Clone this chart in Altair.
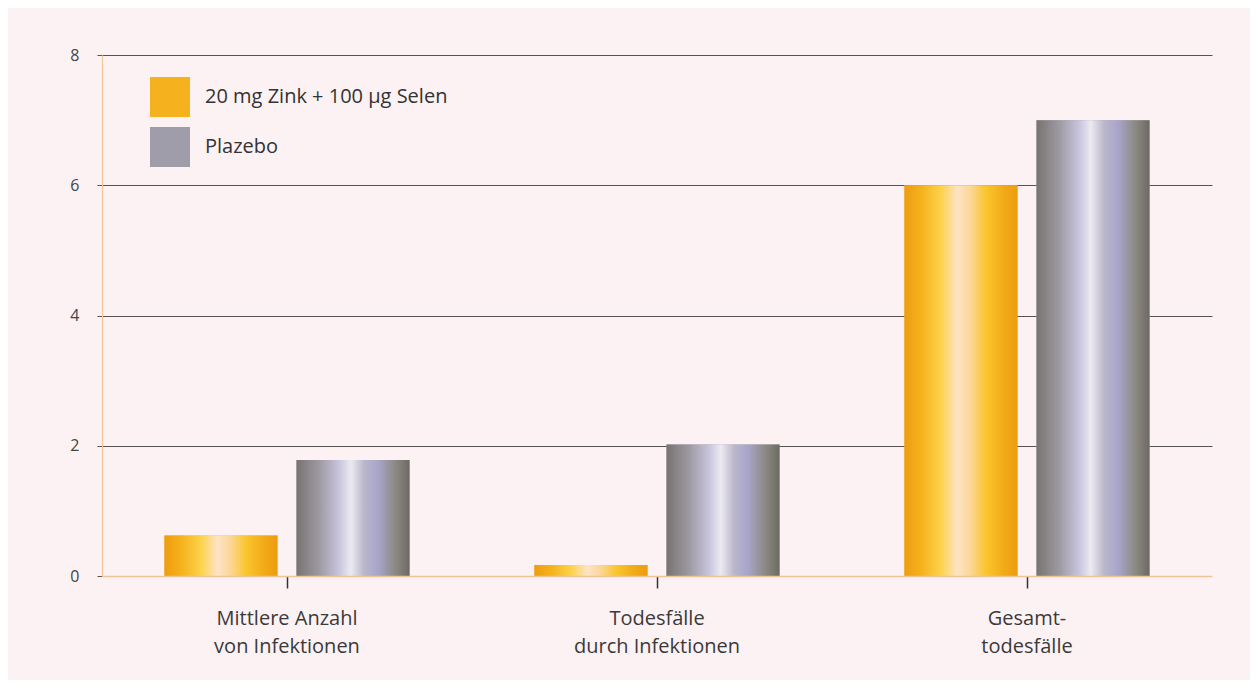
import altair as alt
import pandas as pd

categories = ["Mittlere Anzahl|von Infektionen", "Todesfälle|durch Infektionen", "Gesamt-|todesfälle"]
series = ["20 mg Zink + 100 µg Selen", "Plazebo"]
zink = [0.62, 0.17, 6.0]
plazebo = [1.78, 2.02, 7.0]
y_ticks = [0, 2, 4, 6, 8]

rows = []
for c, a, b in zip(categories, zink, plazebo):
    rows.append({"category": c, "series": series[0], "value": a})
    rows.append({"category": c, "series": series[1], "value": b})
df = pd.DataFrame(rows)

FONT = "Open Sans"

orange_grad = alt.Gradient(
    gradient="linear", x1=0, x2=1, y1=0, y2=0,
    stops=[
        alt.GradientStop(offset=0.0, color="#ee9c12"),
        alt.GradientStop(offset=0.15, color="#f5b21c"),
        alt.GradientStop(offset=0.32, color="#fcd24a"),
        alt.GradientStop(offset=0.47, color="#fde3c6"),
        alt.GradientStop(offset=0.58, color="#fcd79a"),
        alt.GradientStop(offset=0.72, color="#f9c62e"),
        alt.GradientStop(offset=0.88, color="#f2aa18"),
        alt.GradientStop(offset=1.0, color="#ec9c10"),
    ],
)
gray_grad = alt.Gradient(
    gradient="linear", x1=0, x2=1, y1=0, y2=0,
    stops=[
        alt.GradientStop(offset=0.0, color="#787470"),
        alt.GradientStop(offset=0.2, color="#9d99a2"),
        alt.GradientStop(offset=0.38, color="#c9c5de"),
        alt.GradientStop(offset=0.48, color="#eceaf0"),
        alt.GradientStop(offset=0.6, color="#bab6ca"),
        alt.GradientStop(offset=0.72, color="#a9a5ca"),
        alt.GradientStop(offset=0.88, color="#8a8880"),
        alt.GradientStop(offset=1.0, color="#6c6a62"),
    ],
)

x_enc = alt.X(
    "category:N",
    sort=categories,
    scale=alt.Scale(paddingInner=0, paddingOuter=0),
    axis=alt.Axis(
        title=None,
        labelAngle=0,
        labelExpr="split(datum.value, '|')",
        labelFont=FONT,
        labelFontSize=20,
        labelColor="#3a3a3a",
        labelLineHeight=28,
        labelPadding=20,
        ticks=True,
        tickSize=12,
        tickWidth=1.5,
        tickColor="#333333",
        domainColor="#f0c49a",
        domainWidth=1.5,
        grid=False,
        zindex=1,
    ),
)
xo_enc = alt.XOffset(
    "series:N",
    sort=series,
    scale=alt.Scale(domain=series, paddingInner=0.144, paddingOuter=0.473),
)
y_enc = alt.Y(
    "value:Q",
    scale=alt.Scale(domain=[0, 8], nice=False),
    axis=alt.Axis(
        title=None,
        values=y_ticks,
        labelFont=FONT,
        labelFontSize=16,
        labelColor="#444444",
        labelPadding=18,
        tickSize=5,
        tickColor="#5a5753",
        grid=True,
        gridColor=alt.condition("datum.value == 0", alt.value("transparent"), alt.value("#55524f")),
        gridWidth=1.2,
        domainColor="#f3c690",
        domainWidth=1.2,
    ),
)

base = alt.Chart(df).mark_bar().encode(
    x=x_enc,
    xOffset=xo_enc,
    y=y_enc,
    color=alt.Color(
        "series:N",
        sort=series,
        scale=alt.Scale(domain=series, range=["#f5b21e", "#a09dab"]),
        legend=alt.Legend(
            title=None,
            orient="none",
            legendX=48,
            legendY=22,
            symbolType="square",
            symbolSize=1600,
            symbolStrokeWidth=0,
            labelFont=FONT,
            labelFontSize=20,
            labelColor="#333333",
            labelOffset=15,
            labelLimit=0,
            rowPadding=10,
        ),
    ),
)

layer_z = alt.Chart(df).transform_filter(
    alt.datum.series == series[0]
).mark_bar(color=orange_grad).encode(x=x_enc, xOffset=xo_enc, y=y_enc)

layer_p = alt.Chart(df).transform_filter(
    alt.datum.series == series[1]
).mark_bar(color=gray_grad).encode(x=x_enc, xOffset=xo_enc, y=y_enc)

chart = alt.layer(base, layer_z, layer_p).properties(
    width=1110,
    height=521,
    autosize=alt.AutoSizeParams(type="none"),
    padding={"left": 94, "top": 47, "right": 38, "bottom": 104},
    background="#fdf2f3",
).configure_view(stroke=None)

chart.save("out.html", embed_options={"renderer": "svg", "actions": False})
